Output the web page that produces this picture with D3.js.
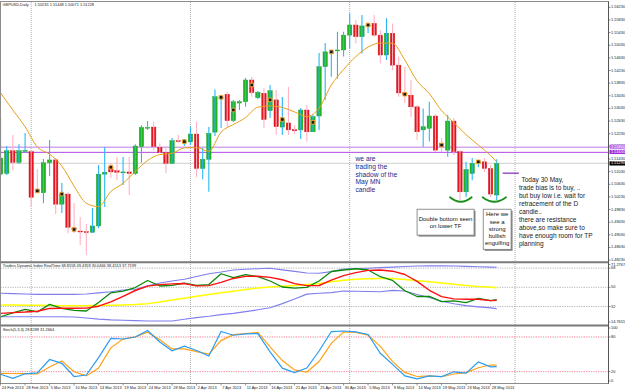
<!DOCTYPE html>
<html><head><meta charset="utf-8">
<script src="https://cdn.jsdelivr.net/npm/d3@7/dist/d3.min.js"></script>
<style>
html,body{margin:0;padding:0;background:#fff;}
svg{display:block;font-family:"Liberation Sans",Arial,sans-serif;}
</style></head><body>
<svg id="c" width="625" height="391"></svg>
<script>
// ---------------- DATA ----------------
const dateLabels = ["24 Feb 2013","28 Feb 2013","5 Mar 2013","10 Mar 2013","14 Mar 2013","19 Mar 2013","24 Mar 2013","28 Mar 2013","2 Apr 2013","7 Apr 2013","11 Apr 2013","16 Apr 2013","21 Apr 2013","25 Apr 2013","30 Apr 2013","5 May 2013","9 May 2013","14 May 2013","19 May 2013","23 May 2013","28 May 2013"];
const dateLabelBars = [0,4,8,12,16,20,24,28,32,36,40,44,48,52,56,60,64,68,72,76,80];
const monthSeparatorBars = [5,31,57,84];

const opens  = [1.5095,1.5097,1.5169,1.5132,1.5167,1.5166,1.5045,1.5036,1.5131,1.5140,1.5000,1.5032,1.4924,1.4915,1.4913,1.4911,1.4931,1.5095,1.5117,1.5106,1.5100,1.5102,1.5097,1.5182,1.5241,1.5244,1.5180,1.5164,1.5129,1.5201,1.5197,1.5197,1.5222,1.5113,1.5142,1.5228,1.5336,1.5348,1.5264,1.5320,1.5324,1.5393,1.5337,1.5351,1.5296,1.5330,1.5244,1.5257,1.5236,1.5235,1.5298,1.5229,1.5279,1.5435,1.5478,1.5485,1.5488,1.5535,1.5567,1.5530,1.5564,1.5572,1.5535,1.5472,1.5541,1.5440,1.5352,1.5345,1.5308,1.5235,1.5240,1.5279,1.5193,1.5171,1.5263,1.5166,1.5039,1.5097,1.5130,1.5134,1.5113,1.5029];
const highs  = [1.5273,1.5184,1.5219,1.5190,1.5225,1.5171,1.5111,1.5143,1.5203,1.5146,1.5067,1.5038,1.5004,1.4959,1.4937,1.4988,1.5124,1.5181,1.5130,1.5149,1.5149,1.5149,1.5190,1.5250,1.5263,1.5261,1.5193,1.5178,1.5209,1.5219,1.5206,1.5245,1.5261,1.5178,1.5244,1.5363,1.5345,1.5355,1.5330,1.5330,1.5399,1.5403,1.5358,1.5367,1.5377,1.5361,1.5339,1.5371,1.5250,1.5304,1.5314,1.5282,1.5478,1.5510,1.5488,1.5546,1.5546,1.5604,1.5583,1.5599,1.5572,1.5599,1.5551,1.5588,1.5572,1.5467,1.5435,1.5393,1.5314,1.5303,1.5324,1.5285,1.5209,1.5282,1.5273,1.5171,1.5134,1.5146,1.5140,1.5146,1.5124,1.5142];
const lows   = [1.5089,1.5092,1.5108,1.5127,1.5162,1.4991,1.5035,1.5003,1.5089,1.4969,1.4972,1.4909,1.4909,1.4871,1.4839,1.4909,1.4924,1.4991,1.5083,1.5076,1.5061,1.5029,1.5092,1.5131,1.5235,1.5171,1.5162,1.5098,1.5127,1.5193,1.5184,1.5187,1.5086,1.5079,1.5039,1.5216,1.5241,1.5241,1.5260,1.5298,1.5308,1.5340,1.5333,1.5241,1.5273,1.5219,1.5219,1.5219,1.5222,1.5206,1.5198,1.5228,1.5235,1.5330,1.5403,1.5398,1.5467,1.5493,1.5509,1.5477,1.5541,1.5530,1.5446,1.5456,1.5424,1.5340,1.5320,1.5277,1.5203,1.5182,1.5198,1.5165,1.5165,1.5150,1.5155,1.5013,1.5023,1.5076,1.5117,1.5102,1.5023,1.5013];
const closes = [1.5146,1.5169,1.5132,1.5169,1.5170,1.5022,1.5040,1.5131,1.5140,1.5000,1.5032,1.4927,1.4920,1.4912,1.4911,1.4931,1.5095,1.5101,1.5102,1.5101,1.5102,1.5097,1.5184,1.5243,1.5243,1.5182,1.5164,1.5129,1.5201,1.5198,1.5199,1.5222,1.5113,1.5142,1.5224,1.5340,1.5339,1.5264,1.5324,1.5324,1.5393,1.5353,1.5354,1.5268,1.5359,1.5245,1.5268,1.5235,1.5232,1.5298,1.5229,1.5277,1.5435,1.5482,1.5482,1.5488,1.5535,1.5567,1.5530,1.5564,1.5567,1.5535,1.5472,1.5541,1.5440,1.5352,1.5348,1.5308,1.5229,1.5245,1.5279,1.5171,1.5184,1.5263,1.5166,1.5039,1.5110,1.5129,1.5134,1.5113,1.5032,1.5129];

const markerBars   = [6,10,12,18,30,36,38,41,44,46,51,54,60,66,72,78];
const markerPrices = [1.5042,1.5032,1.4920,1.5117,1.5198,1.5338,1.5298,1.5377,1.5330,1.5268,1.5259,1.5482,1.5567,1.5348,1.5187,1.5134];

const maBars = [0,2,4,6,8,10,12,14,16,18,20,22,24,26,28,30,32,34,36,38,40,42,44,46,48,50,52,54,56,58,60,62,64,66,68,70,72,74,76,78,80,81];
const maValues = [1.5352,1.5298,1.5245,1.5181,1.5158,1.5121,1.5057,1.5003,1.4992,1.5040,1.5066,1.5104,1.5138,1.5157,1.5161,1.5178,1.5179,1.5167,1.5228,1.5252,1.5274,1.5307,1.5311,1.5306,1.5292,1.5277,1.5304,1.5377,1.5426,1.5467,1.5497,1.5510,1.5509,1.5456,1.5390,1.5350,1.5296,1.5258,1.5220,1.5187,1.5154,1.5134];

const priceTickLabels = ["1.56230","1.55830","1.55430","1.55030","1.54630","1.54230","1.53830","1.53430","1.53030","1.52630","1.52230","1.51830","1.51430","1.51030","1.50630","1.50230","1.49830","1.49430","1.49030","1.48630","1.48230"];
const levelPrices = [1.5180, 1.5164];

const indBars = [0,2,4,6,8,10,12,14,16,18,20,22,24,26,28,30,32,34,36,38,40,42,44,46,48,50,52,54,56,58,60,62,64,66,68,70,72,74,76,78,80,81];
const tdiUpper  = [44.4,44.1,43.7,43.4,43.4,43.4,43.4,43.7,44.8,45.9,47.5,47.9,51.5,54.0,55.9,57.5,60.1,62.7,64.3,66.2,66.9,67.4,67.8,66.3,64.9,63.4,63.2,64.7,67.2,67.6,67.9,68.4,68.9,69.5,70.0,70.1,70.2,70.0,69.6,69.2,68.9,68.86];
const tdiLower  = [22.4,22.4,22.4,22.4,22.4,22.4,22.1,21.2,20.2,19.5,19.1,18.8,18.4,18.4,18.4,20.1,21.6,22.8,24.4,25.6,27.2,28.9,30.8,34.7,39.1,43.6,44.4,45.0,46.5,46.3,46.1,45.9,47.1,46.5,43.3,40.4,36.9,34.6,32.8,31.7,30.7,30.05];
const tdiBase   = [33.4,33.3,33.2,33.1,32.9,32.8,32.8,32.8,32.9,33.1,33.4,33.8,34.7,36.3,38.0,39.7,41.6,43.2,44.8,46.4,48.0,49.4,50.2,50.9,51.7,52.6,53.5,55.1,56.7,57.5,58.1,58.2,58.2,57.3,56.2,55.1,54.1,52.9,51.7,50.7,50.2,49.44];
const tdiSignal = [25.6,26.3,26.8,27.6,30.2,30.3,30.3,30.5,32.3,36.3,41.5,47.0,51.1,52.5,53.2,53.5,51.3,51.6,54.6,58.3,60.2,60.4,59.3,57.1,53.5,51.6,51.7,56.7,61.0,63.7,65.9,66.2,65.1,62.0,55.6,47.2,41.3,39.2,38.8,38.8,37.5,37.72];
const tdiPrice  = [22.4,26.0,29.4,26.9,34.0,30.3,28.3,27.8,35.8,44.8,46.5,49.8,56.4,51.2,51.9,54.0,51.7,52.6,62.7,59.0,61.9,60.0,55.9,50.3,49.2,50.0,55.9,64.8,66.2,67.4,66.2,59.9,56.4,46.8,41.4,41.5,36.6,37.3,35.6,39.7,37.6,38.45];
const tdiLevels = [68,50,32];
const tdiRange = [14.7655, 71.2767];

const stochK = [15.4,8.5,16.3,17.8,41.0,34.3,11.6,14.2,44.3,77.5,76.5,79.9,91.2,71.3,56.1,64.0,56.6,47.1,89.6,83.0,85.5,85.8,54.3,26.0,18.2,26.3,55.7,89.4,90.3,88.8,84.3,51.7,32.5,12.6,7.6,12.8,11.4,19.7,17.3,36.7,28.4,28.83];
const stochD = [17.1,16.8,16.4,15.9,28.0,38.4,19.9,12.6,26.3,61.1,76.4,80.1,88.1,75.1,59.3,59.3,54.5,50.2,73.7,83.9,85.8,87.9,62.8,39.1,23.0,19.4,37.5,69.0,88.6,87.7,83.2,63.8,37.2,18.7,11.6,12.8,11.2,15.9,18.3,26.8,31.5,31.27];
const stochLevels = [80,20];

// ---------------- SETUP ----------------
const svg = d3.select('#c');
const x  = d3.scaleLinear().domain([0,81]).range([0.575,496.7]);
const y  = d3.scaleLinear().domain([1.4823,1.5623]).range([260.1,7.3]);
const yT = d3.scaleLinear().domain(tdiRange).range([324.9,264.6]);
const yS = d3.scaleLinear().domain([0,100]).range([383.2,325.4]);
const fmt5 = d3.format('.5f');
const SMALL = 3.9;

const defs = svg.append('defs');
function clip(id,y0,y1){defs.append('clipPath').attr('id',id).append('rect').attr('x',0.5).attr('y',y0).attr('width',608).attr('height',y1-y0);}
clip('cm',2,261.2); clip('ct',263,324.6); clip('cs',326.5,383);

svg.append('rect').attr('width',625).attr('height',391).attr('fill','#fff');

// month separators
const sep = svg.append('g');
monthSeparatorBars.forEach(b=>{
  sep.append('line').attr('x1',x(b)).attr('x2',x(b)).attr('y1',2).attr('y2',383)
    .attr('stroke','#9a9a9a').attr('stroke-width',0.8).attr('stroke-dasharray','1,1');
});

// ---------------- MAIN PANEL ----------------
const gm = svg.append('g').attr('clip-path','url(#cm)');
// current price line
const lastClose = closes[closes.length-1];
gm.append('line').attr('x1',0.5).attr('x2',608).attr('y1',y(lastClose)).attr('y2',y(lastClose))
  .attr('stroke','#d9d9d9').attr('stroke-width',1.2);
// level lines
gm.append('line').attr('x1',0.5).attr('x2',608).attr('y1',y(levelPrices[0])).attr('y2',y(levelPrices[0]))
  .attr('stroke','#d7a6f0').attr('stroke-width',1.4);
gm.append('line').attr('x1',0.5).attr('x2',608).attr('y1',y(levelPrices[1])).attr('y2',y(levelPrices[1]))
  .attr('stroke','#b048e6').attr('stroke-width',1);

// candles
opens.forEach((o,i)=>{
  const c = closes[i], up = c >= o, bx = x(i);
  const top = y(Math.max(o,c)), bot = y(Math.min(o,c));
  gm.append('rect').attr('x',bx-2.2).attr('y',top).attr('width',4.4).attr('height',Math.max(bot-top,0.9))
    .attr('fill', up ? '#22b422' : '#e3161e').attr('stroke', up ? '#119911' : '#cc0a12').attr('stroke-width',0.4);
  gm.append('line').attr('x1',bx).attr('x2',bx).attr('y1',y(highs[i])).attr('y2',y(lows[i]))
    .attr('stroke', up ? '#2ab6f6' : '#ffb3c3').attr('stroke-width',1.1);
});

// moving average
gm.append('path').datum(maBars.map((b,k)=>[b,maValues[k]]))
  .attr('d', d3.line().x(d=>x(d[0])).y(d=>y(d[1])).curve(d3.curveMonotoneX))
  .attr('fill','none').attr('stroke','#e6a018').attr('stroke-width',1);

// markers
markerBars.forEach((b,k)=>{
  gm.append('rect').attr('x',x(b)-1.8).attr('y',y(markerPrices[k])-1.8).attr('width',3.6).attr('height',3.6)
    .attr('fill','#1a1a1a').attr('stroke','#f2a42a').attr('stroke-width',0.9);
});

// ---------------- ANNOTATIONS ----------------
const noteA = {bar:57.95, price:1.5143, lines:["we are","trading the","shadow of the","May MN","candle"]};
const ga = svg.append('g');
noteA.lines.forEach((t,k)=>{
  ga.append('text').attr('x',x(noteA.bar)).attr('y',y(noteA.price)+k*7.9).attr('dominant-baseline','middle')
    .attr('font-size',6.7).attr('fill','#202a8c').text(t);
});

function box(b0,b1,pTop,pBot,lines,lineY0,lh){
  const x0=x(b0), x1=x(b1), y0=y(pTop), y1=y(pBot);
  ga.append('rect').attr('x',x0+1.5).attr('y',y0+1.5).attr('width',x1-x0).attr('height',y1-y0).attr('fill','#8a8a8a');
  ga.append('rect').attr('x',x0).attr('y',y0).attr('width',x1-x0).attr('height',y1-y0).attr('fill','#fff')
    .attr('stroke','#777').attr('stroke-width',0.8);
  lines.forEach((t,k)=>{
    ga.append('text').attr('x',(x0+x1)/2).attr('y',y0+lineY0+k*lh).attr('text-anchor','middle')
      .attr('dominant-baseline','middle').attr('font-size',6).attr('fill','#111').text(t);
  });
}
box(68.0,77.3,1.4984,1.4902,["Double bottom seen","on lower TF"],9.8,7);
box(78.8,83.35,1.4984,1.4857,["Here we","see a","strong","bullish","engulfing"],5.4,7.3);

const noteC = {bar:84.64, price:1.5076, lines:["Today 30 May,","trade bias is to buy, ..","but buy low i.e. wait for","retracement of the D","candle..","there are resistance","above,so make sure to","have enough room for TP","planning"]};
noteC.lines.forEach((t,k)=>{
  ga.append('text').attr('x',x(noteC.bar)+(k===0?2.5:0)).attr('y',y(noteC.price)+k*8.0).attr('dominant-baseline','middle')
    .attr('font-size',6.5).attr('fill','#222').text(t);
});

// purple pointer line
const pointer = {b0:81.98, b1:84.64, price:1.5098};
ga.append('line').attr('x1',x(pointer.b0)).attr('x2',x(pointer.b1)).attr('y1',y(pointer.price)).attr('y2',y(pointer.price))
  .attr('stroke','#9a52c8').attr('stroke-width',1.5);

// smiles
const smiles = [{b0:73.37,b1:76.92,price:1.5022},{b0:78.71,b1:82.52,price:1.5022}];
smiles.forEach(s=>{
  const x0=x(s.b0), x1=x(s.b1), yy=y(s.price);
  ga.append('path').attr('d',`M${x0},${yy} Q${(x0+x1)/2},${yy+9} ${x1},${yy}`)
    .attr('fill','none').attr('stroke','#1b8f1b').attr('stroke-width',1.8).attr('stroke-linecap','round');
});

// ---------------- TDI PANEL ----------------
const gt = svg.append('g').attr('clip-path','url(#ct)');
tdiLevels.forEach(v=>{
  gt.append('line').attr('x1',0.5).attr('x2',608).attr('y1',yT(v)).attr('y2',yT(v))
    .attr('stroke','#a0a0a0').attr('stroke-width',0.8).attr('stroke-dasharray','1.2,1.2');
});
const lineT = d3.line().x(d=>x(d[0])).y(d=>yT(d[1]));
function tdiLine(vals,color,w){
  gt.append('path').datum(indBars.map((b,k)=>[b,vals[k]])).attr('d',lineT)
    .attr('fill','none').attr('stroke',color).attr('stroke-width',w).attr('stroke-linejoin','round');
}
tdiLine(tdiUpper,'#7f7ff0',1.1);
tdiLine(tdiLower,'#7f7ff0',1.1);
tdiLine(tdiBase,'#ffff00',1.5);
tdiLine(tdiPrice,'#0a8a0a',1.3);
tdiLine(tdiSignal,'#ff1010',1.4);
svg.append('text').attr('x',2.7).attr('y',266.3).attr('dominant-baseline','middle').attr('font-size',SMALL).attr('fill','#222')
  .text('Traders Dynamic Index RealTime 68.8558 49.4359 30.0466 38.4513 37.7199');

// ---------------- STOCH PANEL ----------------
const gs = svg.append('g').attr('clip-path','url(#cs)');
stochLevels.forEach(v=>{
  gs.append('line').attr('x1',0.5).attr('x2',608).attr('y1',yS(v)).attr('y2',yS(v))
    .attr('stroke','#e8607a').attr('stroke-width',0.8).attr('stroke-dasharray','1.2,1.2');
});
const lineS = d3.line().x(d=>x(d[0])).y(d=>yS(d[1]));
gs.append('path').datum(indBars.map((b,k)=>[b,stochD[k]])).attr('d',lineS)
  .attr('fill','none').attr('stroke','#ffa216').attr('stroke-width',1.2);
gs.append('path').datum(indBars.map((b,k)=>[b,stochK[k]])).attr('d',lineS)
  .attr('fill','none').attr('stroke','#2a9cf2').attr('stroke-width',1.2);
svg.append('text').attr('x',2.7).attr('y',329.8).attr('dominant-baseline','middle').attr('font-size',SMALL).attr('fill','#222')
  .text('Stoch(5,3,3) 28.8289 31.2664');

// ---------------- FRAME ----------------
svg.append('rect').attr('x',0.5).attr('y',1.5).attr('width',608).attr('height',382).attr('fill','none')
  .attr('stroke','#8c8c8c').attr('stroke-width',1);
[262.2,325.5].forEach(yy=>{
  svg.append('line').attr('x1',0.5).attr('x2',608.5).attr('y1',yy).attr('y2',yy).attr('stroke','#7a7a7a').attr('stroke-width',2);
});
svg.append('line').attr('x1',608.5).attr('x2',608.5).attr('y1',1.5).attr('y2',383.5).attr('stroke','#555').attr('stroke-width',1);

// title
svg.append('text').attr('x',2.6).attr('y',4.8).attr('dominant-baseline','middle').attr('font-size',SMALL).attr('fill','#222').text('GBPUSD,Daily');
svg.append('text').attr('x',34.5).attr('y',4.8).attr('dominant-baseline','middle').attr('font-size',SMALL).attr('fill','#222').text('1.50235 1.51448 1.50071 1.51228');

// ---------------- RIGHT AXES ----------------
const ga2 = svg.append('g');
function axisLabel(yy,t,col){
  ga2.append('line').attr('x1',608.5).attr('x2',610.5).attr('y1',yy).attr('y2',yy).attr('stroke','#555').attr('stroke-width',0.7);
  ga2.append('text').attr('x',611).attr('y',yy).attr('dominant-baseline','middle').attr('font-size',SMALL).attr('fill',col||'#222').text(t);
}
priceTickLabels.forEach(t=>axisLabel(y(+t),t));
// level boxes
function tagBox(yy,t,bg){
  ga2.append('rect').attr('x',609.5).attr('y',yy-2.1).attr('width',15.5).attr('height',4.2).attr('fill',bg);
  ga2.append('text').attr('x',611).attr('y',yy).attr('dominant-baseline','middle').attr('font-size',SMALL).attr('fill','#fff').text(t);
}
tagBox(y(levelPrices[0])-0.6,fmt5(levelPrices[0]),'#b56ce4');
tagBox(y(levelPrices[1])-0.4,fmt5(levelPrices[1]),'#9a2fdc');
tagBox(y(lastClose),fmt5(lastClose),'#000');

// TDI axis labels
axisLabel(Math.max(yT(tdiRange[1]),264.5),tdiRange[1].toFixed(4));
tdiLevels.forEach(v=>axisLabel(yT(v),String(v)));
axisLabel(Math.min(yT(tdiRange[0]),322),tdiRange[0].toFixed(4));
// stoch axis labels
axisLabel(Math.max(yS(100),328),'100');
stochLevels.forEach(v=>axisLabel(yS(v),String(v)));
axisLabel(Math.min(yS(0),381),'0');

// ---------------- DATE AXIS ----------------
dateLabels.forEach((t,k)=>{
  const xx = x(dateLabelBars[k]);
  svg.append('line').attr('x1',xx).attr('x2',xx).attr('y1',383.5).attr('y2',385.5).attr('stroke','#555').attr('stroke-width',0.6);
  svg.append('text').attr('x',xx+1.2).attr('y',387.6).attr('dominant-baseline','middle').attr('font-size',SMALL).attr('fill','#222').text(t);
});
</script>
</body></html>
